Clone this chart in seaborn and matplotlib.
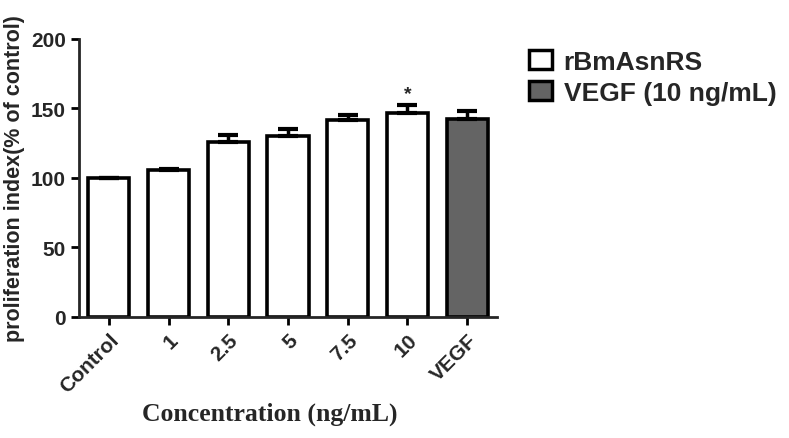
import matplotlib
matplotlib.use("Agg")
import matplotlib.pyplot as plt
import seaborn as sns
import pandas as pd
import numpy as np
from matplotlib.patches import Patch
from matplotlib.transforms import ScaledTranslation

categories = ["Control", "1", "2.5", "5", "7.5", "10", "VEGF"]
values = [100, 105.5, 126, 130, 141.5, 146.5, 142.5]
errors = [0, 1.2, 5, 5, 4, 6, 6]
groups = ["rBmAsnRS"] * 6 + ["VEGF (10 ng/mL)"]
sig_marks = ["", "", "", "", "", "*", ""]
yticks = [0, 50, 100, 150, 200]

sns.set_style("ticks")
plt.rcParams['font.family'] = ['Liberation Sans', 'DejaVu Sans']

df = pd.DataFrame({"cat": categories, "val": values, "grp": groups})
palette = {"rBmAsnRS": "white", "VEGF (10 ng/mL)": "#646464"}

fig = plt.figure(figsize=(7.89, 4.39), dpi=100)
ax = fig.add_axes([0.100, 0.276, 0.530, 0.633])

sns.barplot(data=df, x="cat", y="val", hue="grp", palette=palette, dodge=False,
            width=0.69, edgecolor="black", linewidth=2.6, legend=False, ax=ax,
            errorbar=None)

xs = np.arange(len(categories))
ax.errorbar(xs, values, yerr=[np.zeros(len(errors)), errors], fmt="none",
            ecolor="black", elinewidth=2.5, capsize=7.5, capthick=3, zorder=3)
for x, v, e, m in zip(xs, values, errors, sig_marks):
    if m:
        ax.text(x, v + e + 2, m, ha="center", va="bottom", fontsize=14,
                fontweight="bold")

ax.set_xlim(-0.5, 6.5)
ax.set_ylim(0, 200)
ax.set_yticks(yticks)
ax.set_yticklabels([str(t) for t in yticks], fontsize=15, fontweight="bold")
ax.set_xticks(xs)
ax.set_xticklabels(categories, rotation=45, ha="right", rotation_mode="anchor",
                   fontsize=15, fontweight="bold")
offset = ScaledTranslation(4 / 72, 0, fig.dpi_scale_trans)
for lbl in ax.get_xticklabels():
    lbl.set_transform(lbl.get_transform() + offset)
for s in ["top", "right"]:
    ax.spines[s].set_visible(False)
for s in ["left", "bottom"]:
    ax.spines[s].set_linewidth(2)
ax.tick_params(axis="both", width=2, length=6, direction="out", color="black")
ax.set_ylabel("proliferation index(% of control)", fontsize=15.5, fontweight="bold",
              labelpad=4)
ax.set_xlabel("Concentration (ng/mL)", fontsize=18.5, fontweight="bold",
              family=["Liberation Serif", "DejaVu Serif"], labelpad=4)
fig.canvas.draw()
ax.xaxis.label.set_x(0.457)

handles = [Patch(facecolor=palette[g], edgecolor="black", linewidth=2.5, label=g)
           for g in ["rBmAsnRS", "VEGF (10 ng/mL)"]]
fig.legend(handles=handles, loc="upper left", bbox_to_anchor=(0.654, 0.914),
           frameon=False, prop={"size": 19, "weight": "bold"}, borderpad=0,
           handlelength=0.85, handleheight=0.7, handletextpad=0.45, labelspacing=0.25)

fig.savefig("out.png", dpi=100)
